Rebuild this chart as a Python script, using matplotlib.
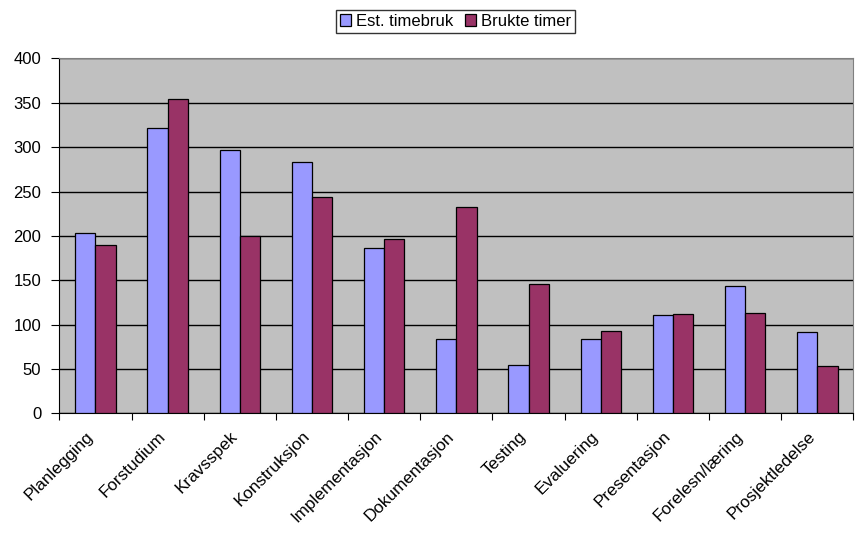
import numpy as np
import matplotlib.pyplot as plt

plt.rcParams['font.family'] = ['Liberation Sans', 'DejaVu Sans']

categories = ["Planlegging", "Forstudium", "Kravsspek", "Konstruksjon", "Implementasjon",
              "Dokumentasjon", "Testing", "Evaluering", "Presentasjon", "Forelesn/læring",
              "Prosjektledelse"]
est_timebruk = [203, 322, 297, 283, 186, 84, 54, 84, 111, 144, 92]
brukte_timer = [190, 354, 200, 244, 196, 233, 146, 93, 112, 113, 53]
y_ticks = [0, 50, 100, 150, 200, 250, 300, 350, 400]

fig = plt.figure(figsize=(8.65, 5.46), dpi=100)
ax = fig.add_axes([0.0686, 0.243, 0.918, 0.650])
ax.set_facecolor("#c0c0c0")

x = np.arange(len(categories))
w = 0.28
ax.bar(x - w / 2, est_timebruk, w, color="#9999ff", edgecolor="black", linewidth=0.9,
       label="Est. timebruk", zorder=3)
ax.bar(x + w / 2, brukte_timer, w, color="#993366", edgecolor="black", linewidth=0.9,
       label="Brukte timer", zorder=3)

ax.set_xlim(-0.5, len(categories) - 0.5)
ax.set_ylim(0, 400)
ax.set_yticks(y_ticks)
ax.yaxis.grid(True, color="black", linewidth=1)
ax.set_axisbelow(True)

# ticks between categories; rotated labels nudged a bit left of centre
ax.set_xticks(np.arange(len(categories) + 1) - 0.5)
ax.set_xticklabels([])
ax.set_xticks(x - 0.14, minor=True)
ax.set_xticklabels(categories, minor=True, rotation=45, ha="right",
                   rotation_mode="anchor", fontsize=12.3)
ax.tick_params(axis="x", which="minor", length=0, pad=11)
ax.tick_params(axis="x", which="major", length=5, direction="out", color="black")
ax.tick_params(axis="y", length=6, direction="out", labelsize=12, pad=7)

for s in ["top", "right"]:
    ax.spines[s].set_color("#808080")
for s in ["left", "bottom"]:
    ax.spines[s].set_color("black")

leg = fig.legend(loc="center", bbox_to_anchor=(0.5266, 0.961), ncol=2, frameon=True,
                 fancybox=False, edgecolor="black", fontsize=12, handlelength=0.65,
                 handleheight=0.65, handletextpad=0.3, columnspacing=0.7,
                 borderpad=0.25)
leg.get_frame().set_linewidth(1)

fig.savefig("out.png", dpi=100)
